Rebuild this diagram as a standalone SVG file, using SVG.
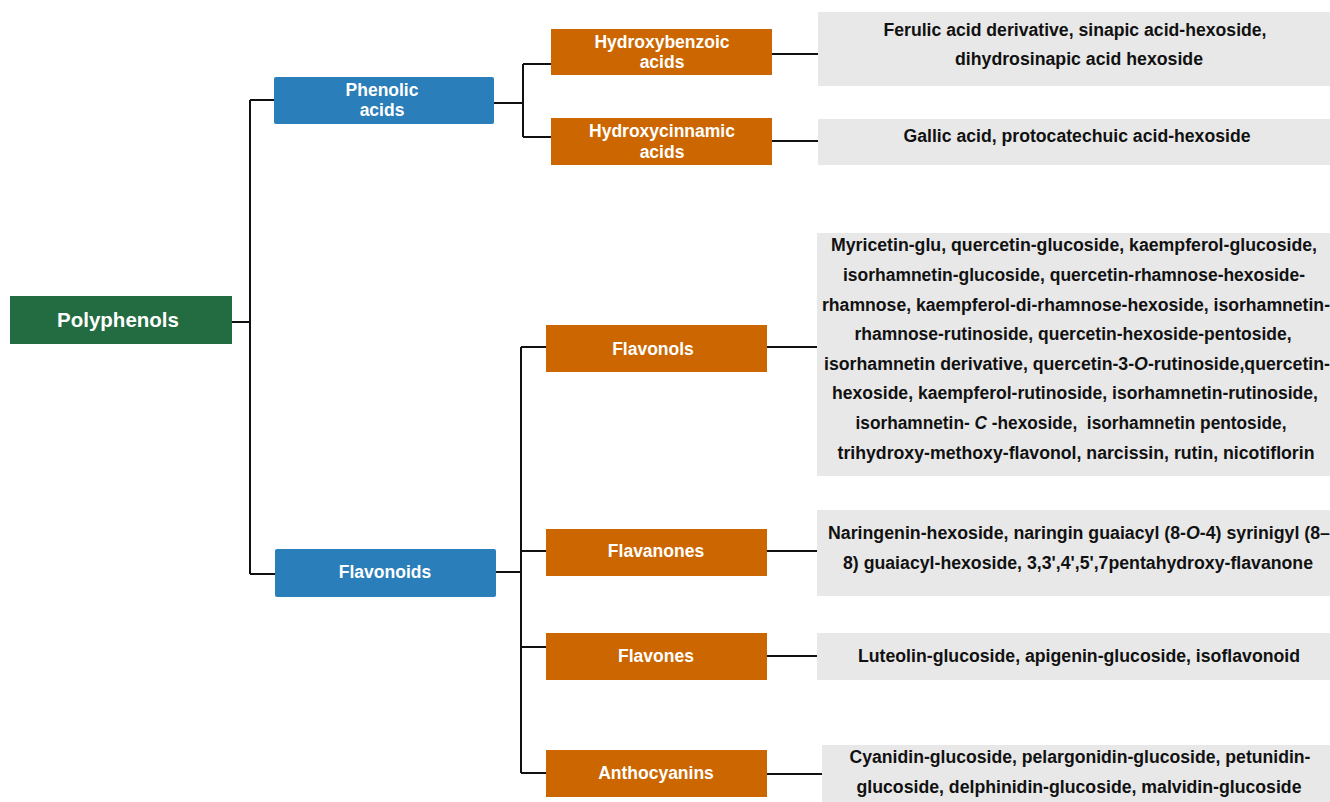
<svg xmlns="http://www.w3.org/2000/svg" width="1330" height="802" viewBox="0 0 1330 802">
<style>
.root{fill:#236B40}
.cls{fill:#2A7EB9}
.sub{fill:#CC6600}
.box{fill:#E8E8E8}
.nt{font-family:"Liberation Sans",Arial,sans-serif;font-weight:bold;font-size:17.5px;fill:#fff;text-anchor:middle}
.rt{font-family:"Liberation Sans",Arial,sans-serif;font-weight:bold;font-size:20.5px;fill:#fff;text-anchor:middle}
.bt{font-family:"Liberation Sans",Arial,sans-serif;font-weight:bold;font-size:17.5px;fill:#111;text-anchor:middle}
.conn{stroke:#111;stroke-width:2;fill:none}
</style>
<rect width="1330" height="802" fill="#fff"/>
<g id="connectors">
<path class="conn" d="M232,322 H250 M250,100 V574 M250,100 H274 M250,574 H275"/>
<path class="conn" d="M494,103 H523 M523,64 V137 M523,64 H551 M523,137 H551"/>
<path class="conn" d="M772,54 H818 M772,141 H818"/>
<path class="conn" d="M496,572 H521 M521,347 V773 M521,347 H546 M521,551 H546 M521,647 H546 M521,773 H546"/>
<path class="conn" d="M767,347 H817 M767,551 H817 M767,656 H817 M767,774 H822"/>
</g>
<g id="polyphenols">
<rect class="root" x="10" y="296" width="222" height="48"/>
<text class="rt" x="118" y="327">Polyphenols</text>
</g>
<g id="phenolic-acids">
<rect class="cls" x="274" y="77" width="220" height="47" rx="2"/>
<text class="nt" x="382" y="96">Phenolic</text>
<text class="nt" x="382" y="116">acids</text>
</g>
<g id="flavonoids">
<rect class="cls" x="275" y="549" width="221" height="48" rx="2"/>
<text class="nt" x="385" y="578">Flavonoids</text>
</g>
<g id="hydroxybenzoic">
<rect class="sub" x="551" y="29" width="221" height="46"/>
<text class="nt" x="662" y="48">Hydroxybenzoic</text>
<text class="nt" x="662" y="68">acids</text>
</g>
<g id="hydroxycinnamic">
<rect class="sub" x="551" y="118" width="221" height="47"/>
<text class="nt" x="662" y="137">Hydroxycinnamic</text>
<text class="nt" x="662" y="158">acids</text>
</g>
<g id="flavonols">
<rect class="sub" x="546" y="325" width="221" height="47"/>
<text class="nt" x="653" y="355">Flavonols</text>
</g>
<g id="flavanones">
<rect class="sub" x="546" y="529" width="221" height="47"/>
<text class="nt" x="656" y="557">Flavanones</text>
</g>
<g id="flavones">
<rect class="sub" x="546" y="633" width="221" height="47"/>
<text class="nt" x="656" y="662">Flavones</text>
</g>
<g id="anthocyanins">
<rect class="sub" x="546" y="750" width="221" height="47"/>
<text class="nt" x="656" y="779">Anthocyanins</text>
</g>
<g id="hydroxybenzoic-compounds">
<rect class="box" x="818" y="12" width="512" height="74"/>
<text class="bt" x="1075" y="36" textLength="383" lengthAdjust="spacingAndGlyphs">Ferulic acid derivative, sinapic acid-hexoside,</text>
<text class="bt" x="1079" y="65" textLength="248" lengthAdjust="spacingAndGlyphs">dihydrosinapic acid hexoside</text>
</g>
<g id="hydroxycinnamic-compounds">
<rect class="box" x="818" y="119" width="512" height="46"/>
<text class="bt" x="1077" y="142" textLength="347" lengthAdjust="spacingAndGlyphs">Gallic acid, protocatechuic acid-hexoside</text>
</g>
<g id="flavonols-compounds">
<rect class="box" x="817" y="233" width="513" height="243"/>
<text class="bt" x="1074" y="251" textLength="486" lengthAdjust="spacingAndGlyphs">Myricetin-glu, quercetin-glucoside, kaempferol-glucoside,</text>
<text class="bt" x="1074" y="281" textLength="462" lengthAdjust="spacingAndGlyphs">isorhamnetin-glucoside, quercetin-rhamnose-hexoside-</text>
<text class="bt" x="1076" y="311" textLength="508" lengthAdjust="spacingAndGlyphs">rhamnose, kaempferol-di-rhamnose-hexoside, isorhamnetin-</text>
<text class="bt" x="1073" y="340" textLength="437" lengthAdjust="spacingAndGlyphs">rhamnose-rutinoside, quercetin-hexoside-pentoside,</text>
<text class="bt" x="1077" y="370" textLength="506" lengthAdjust="spacingAndGlyphs">isorhamnetin derivative, quercetin-3-<tspan font-style="italic">O</tspan>-rutinoside,quercetin-</text>
<text class="bt" x="1075" y="399" textLength="486" lengthAdjust="spacingAndGlyphs">hexoside, kaempferol-rutinoside, isorhamnetin-rutinoside,</text>
<text class="bt" x="1071" y="429" textLength="431" lengthAdjust="spacingAndGlyphs" style="white-space:pre">isorhamnetin- <tspan font-style="italic">C</tspan> -hexoside,  isorhamnetin pentoside,</text>
<text class="bt" x="1076" y="459" textLength="477" lengthAdjust="spacingAndGlyphs">trihydroxy-methoxy-flavonol, narcissin, rutin, nicotiflorin</text>
</g>
<g id="flavanones-compounds">
<rect class="box" x="817" y="510" width="513" height="86"/>
<text class="bt" x="1079" y="539" textLength="502" lengthAdjust="spacingAndGlyphs">Naringenin-hexoside, naringin guaiacyl (8-<tspan font-style="italic">O</tspan>-4) syrinigyl (8–</text>
<text class="bt" x="1078" y="569" textLength="470" lengthAdjust="spacingAndGlyphs">8) guaiacyl-hexoside, 3,3',4',5',7pentahydroxy-flavanone</text>
</g>
<g id="flavones-compounds">
<rect class="box" x="817" y="633" width="513" height="47"/>
<text class="bt" x="1079" y="662" textLength="442" lengthAdjust="spacingAndGlyphs">Luteolin-glucoside, apigenin-glucoside, isoflavonoid</text>
</g>
<g id="anthocyanins-compounds">
<rect class="box" x="822" y="745" width="508" height="57"/>
<text class="bt" x="1080" y="763" textLength="461" lengthAdjust="spacingAndGlyphs">Cyanidin-glucoside, pelargonidin-glucoside, petunidin-</text>
<text class="bt" x="1079" y="793" textLength="445" lengthAdjust="spacingAndGlyphs">glucoside, delphinidin-glucoside, malvidin-glucoside</text>
</g>
</svg>
